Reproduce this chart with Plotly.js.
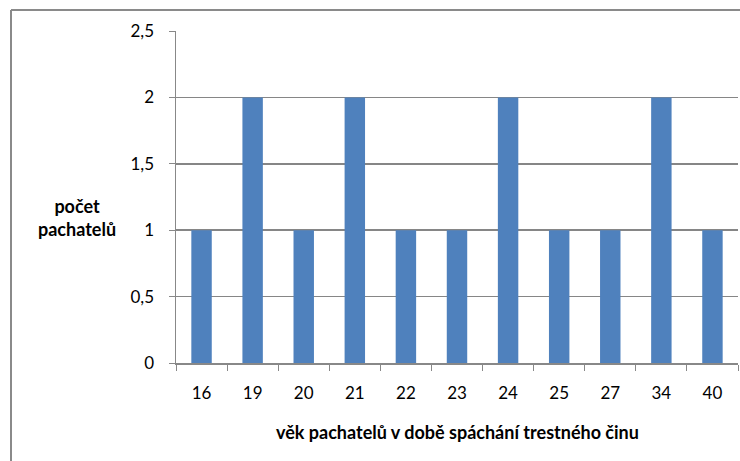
<!DOCTYPE html>
<html><head><meta charset="utf-8">
<script src="https://cdn.plot.ly/plotly-3.0.1.min.js"></script>
<style>html,body{margin:0;padding:0;background:#fff;}#chart{width:740px;height:461px;}</style>
</head><body><div id="chart"></div>
<script>
const ages = ['16','19','20','21','22','23','24','25','27','34','40'];
const counts = [1,2,1,2,1,1,2,1,1,2,1];
const yTicks = [0,0.5,1,1.5,2,2.5];
const yTickText = ['0','0,5','1','1,5','2','2,5'];
const xTitle = 'věk pachatelů v době spáchání trestného činu';
const yTitle = 'počet<br>pachatelů';

const font = 'Lato, "Open Sans", sans-serif';
const trace = {type:'bar', x:ages, y:counts, marker:{color:'#4F81BD'}, hoverinfo:'none'};
const layout = {
  width:740, height:461,
  margin:{l:176, r:2, t:31, b:98},
  paper_bgcolor:'#fff', plot_bgcolor:'#fff',
  bargap:0.6, showlegend:false,
  font:{family:font, size:17, color:'#000'},
  xaxis:{type:'category', showline:true, linecolor:'#888', linewidth:1.5,
    ticks:'outside', ticklen:6, tickcolor:'#888', tickson:'boundaries',
    showgrid:false, tickfont:{size:17}, ticklabelstandoff:14},
  yaxis:{range:[0,2.5], tickvals:yTicks, ticktext:yTickText,
    showline:true, linecolor:'#888', linewidth:1.5,
    ticks:'outside', ticklen:6, tickcolor:'#888',
    showgrid:true, gridcolor:'#868686', gridwidth:1.5, zeroline:false,
    tickfont:{size:17}, ticklabelstandoff:11},
  annotations:[
    {text:'<b>'+yTitle+'</b>', xref:'paper', yref:'paper', xanchor:'center', yanchor:'middle',
     x:-0.176, y:0.437, showarrow:false, font:{size:18}, align:'center'},
    {text:'<b>'+xTitle+'</b>', xref:'paper', yref:'paper', xanchor:'center', yanchor:'middle',
     x:0.5, y:-0.208, showarrow:false, font:{size:18}, align:'center'}],
  shapes:[
    {type:'line', xref:'paper', yref:'paper', x0:-0.2936, x1:-0.2936, y0:-0.5, y1:1.0633,
     line:{color:'#8a8a8a', width:2}},
    {type:'line', xref:'paper', yref:'paper', x0:-0.2936, x1:1.2, y0:1.0633, y1:1.0633,
     line:{color:'#8a8a8a', width:2}}]
};
Plotly.newPlot('chart',[trace],layout,{staticPlot:true});
</script></body></html>
